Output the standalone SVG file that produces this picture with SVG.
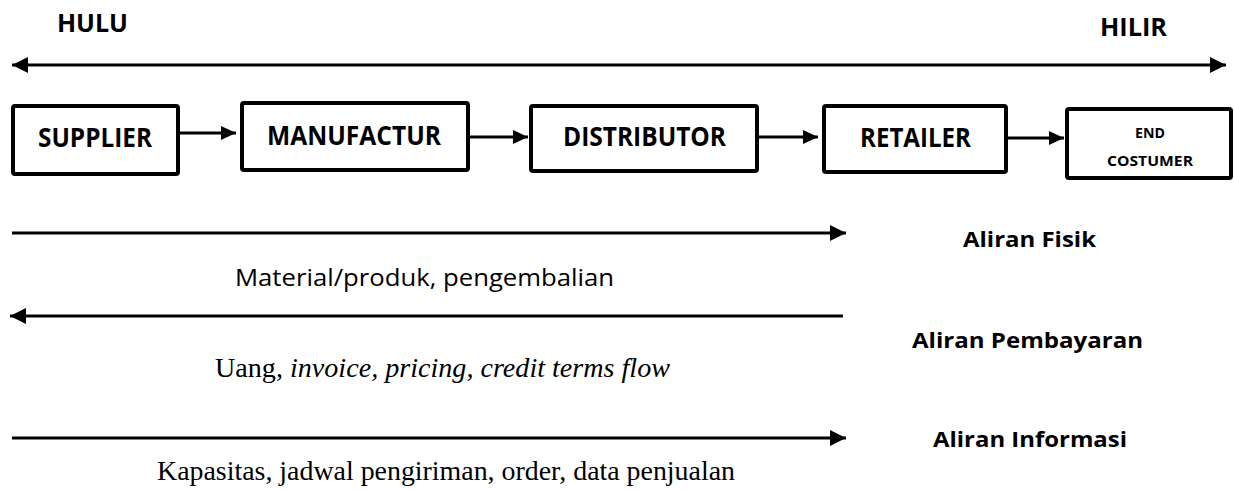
<svg xmlns="http://www.w3.org/2000/svg" width="1234" height="490" viewBox="0 0 1234 490">
  <defs>
    <style>
      .box { fill: #ffffff; stroke: #000000; stroke-width: 4; }
      .lbl { font-family: "Open Sans", "Liberation Sans", sans-serif; font-weight: bold; fill: #000; text-anchor: middle; }
      .side { font-family: "Open Sans", "Liberation Sans", sans-serif; font-weight: bold; fill: #000; font-size: 21px; }
      .conn { stroke: #000; stroke-width: 3; fill: none; }
      .serif { font-family: "Liberation Serif", "Times New Roman", serif; fill: #000; }
    </style>
    <marker id="ah" viewBox="0 0 16 16" refX="16" refY="8" markerWidth="16" markerHeight="16" markerUnits="userSpaceOnUse" orient="auto-start-reverse">
      <path d="M0,0 L16,8 L0,16 Z" fill="#000"/>
    </marker>
    <marker id="ahs" viewBox="0 0 15 14" refX="15" refY="7" markerWidth="15" markerHeight="14" markerUnits="userSpaceOnUse" orient="auto">
      <path d="M0,0 L15,7 L0,14 Z" fill="#000"/>
    </marker>
  </defs>
  <rect width="1234" height="490" fill="#ffffff"/>

  <g id="header">
    <text class="lbl" x="92.5" y="32" font-size="25" textLength="71" lengthAdjust="spacingAndGlyphs">HULU</text>
    <text class="lbl" x="1133.5" y="36" font-size="25" textLength="67" lengthAdjust="spacingAndGlyphs">HILIR</text>
  </g>

  <g id="node-supplier">
    <rect class="box" x="13" y="106" width="165" height="68" rx="2"/>
    <text class="lbl" x="95" y="147" font-size="26" textLength="114" lengthAdjust="spacingAndGlyphs">SUPPLIER</text>
  </g>
  <g id="node-manufactur">
    <rect class="box" x="242" y="103" width="226" height="67" rx="2"/>
    <text class="lbl" x="354" y="145" font-size="26" textLength="174" lengthAdjust="spacingAndGlyphs">MANUFACTUR</text>
  </g>
  <g id="node-distributor">
    <rect class="box" x="531" y="106" width="226" height="65" rx="2"/>
    <text class="lbl" x="644.5" y="146" font-size="26" textLength="163" lengthAdjust="spacingAndGlyphs">DISTRIBUTOR</text>
  </g>
  <g id="node-retailer">
    <rect class="box" x="824" y="106" width="182" height="66" rx="2"/>
    <text class="lbl" x="915.5" y="147" font-size="26" textLength="111" lengthAdjust="spacingAndGlyphs">RETAILER</text>
  </g>
  <g id="node-end-costumer">
    <rect class="box" x="1067" y="109" width="164" height="69" rx="2"/>
    <text class="lbl" x="1150" y="138" font-size="14" textLength="30" lengthAdjust="spacingAndGlyphs">END</text>
    <text class="lbl" x="1150" y="166" font-size="14" textLength="86" lengthAdjust="spacingAndGlyphs">COSTUMER</text>
  </g>

  <g id="connectors">
    <line class="conn" x1="12" y1="65" x2="1226" y2="65" marker-start="url(#ah)" marker-end="url(#ah)"/>
    <line class="conn" x1="180" y1="133" x2="236" y2="133" marker-end="url(#ahs)"/>
    <line class="conn" x1="470" y1="137" x2="528" y2="137" marker-end="url(#ahs)"/>
    <line class="conn" x1="759" y1="137" x2="818" y2="137" marker-end="url(#ahs)"/>
    <line class="conn" x1="1008" y1="138" x2="1064" y2="138" marker-end="url(#ahs)"/>
    <line class="conn" x1="12" y1="233" x2="846" y2="233" marker-end="url(#ah)"/>
    <line class="conn" x1="843" y1="316" x2="10" y2="316" marker-end="url(#ah)"/>
    <line class="conn" x1="12" y1="438" x2="846" y2="438" marker-end="url(#ah)"/>
  </g>

  <g id="flow-labels">
    <text class="side" x="963" y="247" textLength="133" lengthAdjust="spacingAndGlyphs">Aliran Fisik</text>
    <text class="side" x="912" y="348" textLength="231" lengthAdjust="spacingAndGlyphs">Aliran Pembayaran</text>
    <text class="side" x="933" y="447" textLength="194" lengthAdjust="spacingAndGlyphs">Aliran Informasi</text>
  </g>

  <g id="flow-descriptions">
    <text x="235" y="286" font-family="Open Sans, Liberation Sans, sans-serif" font-size="24" fill="#000" textLength="379" lengthAdjust="spacingAndGlyphs">Material/produk, pengembalian</text>
    <text class="serif" x="215" y="377" font-size="27" textLength="455" lengthAdjust="spacingAndGlyphs">Uang, <tspan font-style="italic">invoice, pricing, credit terms flow</tspan></text>
    <text class="serif" x="157" y="480" font-size="28" textLength="578" lengthAdjust="spacingAndGlyphs">Kapasitas, jadwal pengiriman, order, data penjualan</text>
  </g>
</svg>
